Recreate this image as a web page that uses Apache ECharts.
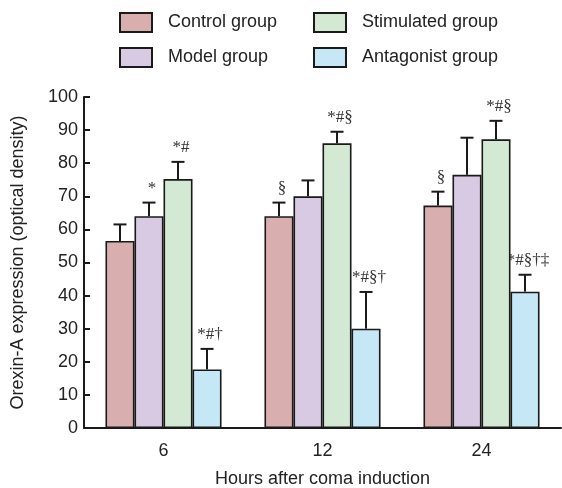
<!DOCTYPE html>
<html><head><meta charset="utf-8">
<script src="https://cdn.jsdelivr.net/npm/echarts@6/dist/echarts.min.js"></script>
<style>html,body{margin:0;padding:0;background:#fff}#c{width:562px;height:488px}</style>
</head><body><div id="c"></div>
<script>
var categories = ['6', '12', '24'];
var seriesNames = ['Control group', 'Model group', 'Stimulated group', 'Antagonist group'];
var controlMean = [56.5, 64.0, 67.2];
var controlErr = [61.5, 68.1, 71.4];
var modelMean = [64.0, 70.0, 76.5];
var modelErr = [68.1, 74.8, 87.7];
var stimMean = [75.2, 86.0, 87.2];
var stimErr = [80.4, 89.5, 92.8];
var antMean = [17.7, 30.0, 41.2];
var antErr = [23.9, 41.1, 46.3];
var controlMarks = ['', '\u00a7', '\u00a7'];
var modelMarks = ['*', '', ''];
var stimMarks = ['*#', '*#\u00a7', '*#\u00a7'];
var antMarks = ['*#\u2020', '*#\u00a7\u2020', '*#\u00a7\u2020\u2021'];
var yTicks = [0, 10, 20, 30, 40, 50, 60, 70, 80, 90, 100];

var colors = ['#d9aeae', '#d9cae3', '#d3e9d3', '#c6e7f6'];
var means = [controlMean, modelMean, stimMean, antMean];
var errs = [controlErr, modelErr, stimErr, antErr];
var marks = [controlMarks, modelMarks, stimMarks, antMarks];
var CAT_GAP = 0.27;

var series = [];
seriesNames.forEach(function (name, i) {
  series.push({
    name: name, type: 'bar', data: means[i], barGap: '0%', barCategoryGap: (CAT_GAP * 100) + '%',
    itemStyle: { color: colors[i], borderColor: '#1a1a1a', borderWidth: 1.6 },
    z: 2
  });
});
seriesNames.forEach(function (name, i) {
  var d = categories.map(function (c, k) { return [k, means[i][k], errs[i][k], marks[i][k]]; });
  series.push({
    type: 'custom', data: d, z: 1, silent: true,
    encode: { x: 0, y: [1, 2] },
    renderItem: function (params, api) {
      var k = api.value(0);
      var catW = api.size([1, 0])[0];
      var bw = catW * (1 - CAT_GAP) / 4;
      var off = (i - 1.5) * bw;
      var p0 = api.coord([k, api.value(1)]);
      var p1 = api.coord([k, api.value(2)]);
      var x = p0[0] + off;
      var capHalf = 6.5;
      var label = d[params.dataIndex][3];
      return {
        type: 'group',
        children: [
          { type: 'line', shape: { x1: x, y1: p0[1], x2: x, y2: p1[1] }, style: { stroke: '#1a1a1a', lineWidth: 2 } },
          { type: 'line', shape: { x1: x - capHalf, y1: p1[1], x2: x + capHalf, y2: p1[1] }, style: { stroke: '#1a1a1a', lineWidth: 2 } },
          { type: 'text', z2: 10, style: { text: label, x: x + 3, y: p1[1] - 6, textAlign: 'center', textVerticalAlign: 'bottom', fill: '#333', font: '17px "Liberation Serif", serif' } }
        ]
      };
    }
  });
});

var chart = echarts.init(document.getElementById('c'));
var legendText = { fontSize: 18, color: '#222', fontFamily: 'Liberation Sans, Arial, sans-serif', padding: [0, 0, 0, 11] };
var legendBase = { orient: 'vertical', top: 7, itemWidth: 32, itemHeight: 19, itemGap: 14, icon: 'rect', textStyle: legendText, selectedMode: false };
chart.setOption({
  animation: false,
  legend: [
    Object.assign({ data: [seriesNames[0], seriesNames[1]], left: 114 }, legendBase),
    Object.assign({ data: [seriesNames[2], seriesNames[3]], left: 308 }, legendBase)
  ],
  grid: { left: 84, right: 1, top: 97, bottom: 60, outerBoundsMode: 'none', containLabel: false },
  xAxis: {
    type: 'category', data: categories,
    name: 'Hours after coma induction', nameLocation: 'middle', nameGap: 42,
    nameTextStyle: { fontSize: 18, color: '#222', fontFamily: 'Liberation Sans, Arial, sans-serif' },
    axisLine: { lineStyle: { color: '#1a1a1a', width: 2 } },
    axisTick: { inside: true, length: 5, lineStyle: { color: '#1a1a1a', width: 2 } },
    axisLabel: { fontSize: 18, color: '#222', margin: 14, fontFamily: 'Liberation Sans, Arial, sans-serif' }
  },
  yAxis: {
    type: 'value', min: 0, max: 100, interval: 10,
    name: 'Orexin-A expression (optical density)', nameLocation: 'middle', nameGap: 57,
    nameTextStyle: { fontSize: 18, color: '#222', fontFamily: 'Liberation Sans, Arial, sans-serif' },
    splitLine: { show: false },
    axisLine: { show: true, lineStyle: { color: '#1a1a1a', width: 2 } },
    axisTick: { show: true, inside: true, length: 6, lineStyle: { color: '#1a1a1a', width: 2 } },
    axisLabel: { fontSize: 18, color: '#222', margin: 6, fontFamily: 'Liberation Sans, Arial, sans-serif',
      formatter: function (v) { return yTicks.indexOf(v) >= 0 ? String(v) : ''; } }
  },
  series: series
});
</script></body></html>
